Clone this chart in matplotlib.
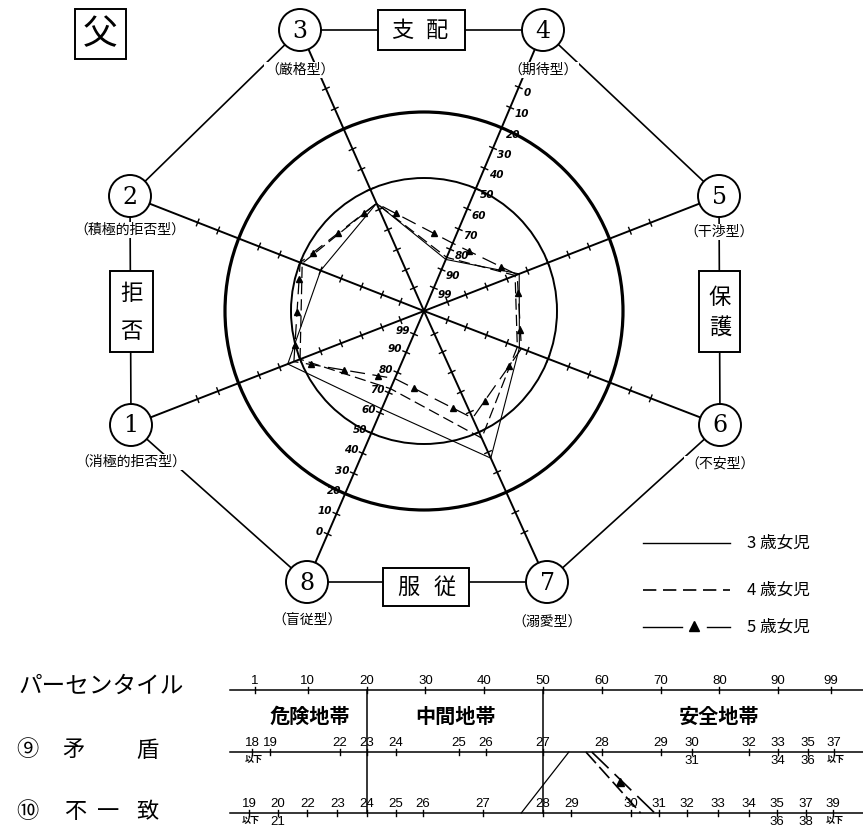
import numpy as np
import matplotlib
matplotlib.use('Agg')
import matplotlib.pyplot as plt
from matplotlib.patches import Circle, Rectangle

plt.rcParams['font.family'] = ['Noto Sans CJK JP', 'DejaVu Sans']

# ---------------- data ----------------
axis_numbers = ['1', '2', '3', '4', '5', '6', '7', '8']
type_labels = ['（消極的拒否型）', '（積極的拒否型）', '（厳格型）', '（期待型）',
               '（干渉型）', '（不安型）', '（溺愛型）', '（盲従型）']
scale_ticks = [0, 10, 20, 30, 40, 50, 60, 70, 80, 90, 99]
ring_values = [20, 50]
girls3 = [44, 60, 57, 85, 64, 64, 37, 62]
girls4 = [50, 51, 57, 84, 66, 65, 47, 72]
girls5 = [47, 50, 57, 77, 65, 63, 57, 77]
series_names = ['3 歳女児', '4 歳女児', '5 歳女児']
title_label = '父'

pct_ticks = [1, 10, 20, 30, 40, 50, 60, 70, 80, 90, 99]
zone_names = ['危険地帯', '中間地帯', '安全地帯']
zone_bounds = [20, 50]
mujun_scores = ['18', '19', '22', '23', '24', '25', '26', '27', '28', '29', '30', '32', '33', '35', '37']
mujun_pct = [0.5, 3.6, 15.5, 20, 25, 35.7, 40.3, 50, 60, 70, 75.3, 85, 90, 95, 99.5]
mujun_sub = {'18': '以下', '30': '31', '33': '34', '35': '36', '37': '以下'}
fuitchi_scores = ['19', '20', '22', '23', '24', '25', '26', '27', '28', '29', '30', '31',
                  '32', '33', '34', '35', '37', '39']
fuitchi_pct = [0, 4.9, 9.9, 15, 20, 25, 29.6, 39.8, 50, 54.8, 65, 69.7, 74.5, 79.8, 85,
               89.8, 94.7, 99.3]
fuitchi_sub = {'19': '以下', '20': '21', '35': '36', '37': '38', '39': '以下'}
mujun_series = [54.4, 57.3, 58.3]
fuitchi_series = [46.3, 66.6, 69.0]

# ---------------- layout ----------------
fig = plt.figure(figsize=(8.63, 8.32), dpi=100)
ax = fig.add_axes([0, 0, 1, 1])
ax.set_xlim(0, 863)
ax.set_ylim(832, 0)
ax.axis('off')

cx, cy = 424, 311
node_xy = [(131, 425), (130, 196), (300, 30), (543, 30),
           (719, 196), (720, 425), (547, 582), (307, 582)]
angles = [np.arctan2(cy - ny, nx - cx) for nx, ny in node_xy]
R0, K = 243.0, 2.2


def rad(v):
    return R0 - K * v


def pos(i, v):
    r = rad(v)
    return cx + r * np.cos(angles[i]), cy - r * np.sin(angles[i])


JP = ['Noto Sans CJK JP', 'DejaVu Sans']

# spokes
for (nx, ny) in node_xy:
    ax.plot([cx, nx], [cy, ny], color='k', lw=1.4, zorder=1, solid_capstyle='butt')

# spoke ticks
for i in range(8):
    a = angles[i]
    u = np.array([np.cos(a), -np.sin(a)])
    pp = np.array([-u[1], u[0]])
    for v in scale_ticks:
        x, y = pos(i, v)
        ax.plot([x - 3.5 * pp[0], x + 3.5 * pp[0]], [y - 3.5 * pp[1], y + 3.5 * pp[1]],
                color='k', lw=1.0, zorder=2)

# rings
ax.add_patch(Circle((cx, cy), rad(ring_values[0]), fill=False, ec='k', lw=2.3, zorder=2))
ax.add_patch(Circle((cx, cy), rad(ring_values[1]), fill=False, ec='k', lw=1.4, zorder=2))

# octagon edges
for a_, b_ in [(2, 3), (3, 4), (4, 5), (5, 6), (6, 7), (7, 0), (0, 1), (1, 2)]:
    ax.plot([node_xy[a_][0], node_xy[b_][0]], [node_xy[a_][1], node_xy[b_][1]],
            color='k', lw=1.2, zorder=1)

# tick labels on axes 4 and 8
for i in (3, 7):
    a = angles[i]
    u = np.array([np.cos(a), -np.sin(a)])
    perp = np.array([-u[1], u[0]])
    for v in scale_ticks:
        x, y = pos(i, v)
        d = 6 + 3.2 * len(str(v))
        ax.text(x + perp[0] * d, y + perp[1] * d + 2, str(v), ha='center', va='center',
                fontsize=7.5, fontstyle='italic', fontweight='bold', family='DejaVu Sans',
                zorder=3)


# series
def closed(vals):
    pts = [pos(i, v) for i, v in enumerate(vals)]
    pts.append(pts[0])
    return [p[0] for p in pts], [p[1] for p in pts]


xs, ys = closed(girls3)
ax.plot(xs, ys, color='k', lw=0.8, zorder=4)
xs, ys = closed(girls4)
ax.plot(xs, ys, color='k', lw=0.9, ls=(0, (9, 4)), zorder=4)
xs, ys = closed(girls5)
ax.plot(xs, ys, color='k', lw=0.9, ls=(0, (12, 6)), zorder=4)
# triangle decorations along the 5-year line
mx, my = [], []
for k in range(len(xs) - 1):
    L = np.hypot(xs[k + 1] - xs[k], ys[k + 1] - ys[k])
    n = max(1, int(L // 32))
    for j in range(n):
        t = (j + 0.5) / n
        mx.append(xs[k] + t * (xs[k + 1] - xs[k]))
        my.append(ys[k] + t * (ys[k + 1] - ys[k]))
ax.plot(mx, my, ls='none', marker='^', ms=4, color='k', zorder=4)

# nodes
label_dy = [37, 34, 40, 40, 36, 39, 40, 38]
for i, (nx, ny) in enumerate(node_xy):
    ax.add_patch(Circle((nx, ny), 21, fc='white', ec='k', lw=1.4, zorder=6))
    ax.text(nx, ny + 1, axis_numbers[i], ha='center', va='center', fontsize=17,
            family='DejaVu Serif', zorder=7)
    ax.text(nx, ny + label_dy[i], type_labels[i], ha='center', va='center', fontsize=10,
            family=JP, zorder=7,
            bbox=dict(boxstyle='square,pad=0.1', fc='white', ec='none'))

# group boxes
boxes = [((378, 10), 87, 40, [('支', 402, 30), ('配', 437, 30)]),
         ((383, 568), 86, 38, [('服', 408, 587), ('従', 445, 587)]),
         ((110, 271), 43, 81, [('拒', 131, 293), ('否', 131, 331)]),
         ((699, 271), 41, 81, [('保', 720, 297), ('護', 720, 327)])]
for (bx, by), bw, bh, chars in boxes:
    ax.add_patch(Rectangle((bx, by), bw, bh, fc='white', ec='k', lw=1.4, zorder=6))
    for ch, tx, ty in chars:
        ax.text(tx, ty, ch, ha='center', va='center', fontsize=16, family=JP, zorder=7)
ax.add_patch(Rectangle((75, 9), 51, 50, fc='white', ec='k', lw=1.4, zorder=6))
ax.text(100.5, 35, title_label, ha='center', va='center', fontsize=25, family=JP, zorder=7)

# legend
ly = [543, 590, 627]
ax.plot([643, 730], [ly[0], ly[0]], color='k', lw=1.0)
ax.plot([643, 730], [ly[1], ly[1]], color='k', lw=1.2, ls=(0, (8, 4)))
ax.plot([643, 682], [ly[2], ly[2]], color='k', lw=1.0)
ax.plot([707, 730], [ly[2], ly[2]], color='k', lw=1.0)
ax.plot([694], [ly[2] - 1], marker='^', ms=7, color='k')
for yy, nm in zip(ly, series_names):
    ax.text(747, yy, nm, ha='left', va='center', fontsize=12, family=JP)


# ---------------- bottom scales ----------------
def xp(p):
    return 249 + 5.88 * p


y_pct, y_mu, y_fu = 690, 752, 813
for yy in (y_pct, y_mu, y_fu):
    ax.plot([230, 863], [yy, yy], color='k', lw=1.1)

NUM = 'Liberation Sans'
for p in pct_ticks:
    ax.plot([xp(p)] * 2, [y_pct - 3, y_pct + 3], color='k', lw=1)
    ax.text(xp(p), y_pct - 3, str(p), ha='center', va='bottom', fontsize=9.5, family=NUM)

for b in zone_bounds:
    ax.plot([xp(b)] * 2, [y_pct, y_fu], color='k', lw=1.1)

zone_x = [310, 455, 719]
for nm, zx in zip(zone_names, zone_x):
    ax.text(zx, 716, nm, ha='center', va='center', fontsize=14.5, family=JP, fontweight='bold')

for scores, pcts, subs, yy in [(mujun_scores, mujun_pct, mujun_sub, y_mu),
                               (fuitchi_scores, fuitchi_pct, fuitchi_sub, y_fu)]:
    for s, p in zip(scores, pcts):
        ax.plot([xp(p)] * 2, [yy - 3, yy + 3], color='k', lw=1)
        ax.text(xp(p), yy - 3, s, ha='center', va='bottom', fontsize=9.5, family=NUM)
        if s in subs:
            sub = subs[s]
            if sub == '以下':
                ax.text(xp(p) + 2, yy + 3, sub, ha='center', va='top', fontsize=6.5,
                        family=JP, fontweight='bold')
            else:
                ax.text(xp(p), yy + 3, sub, ha='center', va='top', fontsize=9.5, family=NUM)

# profile lines between 9 and 10
ax.plot([xp(mujun_series[0]), xp(fuitchi_series[0])], [y_mu, y_fu], color='k', lw=0.9)
ax.plot([xp(mujun_series[1]), xp(fuitchi_series[1])], [y_mu, y_fu], color='k', lw=1.2,
        ls=(0, (9, 3)))
ax.plot([xp(mujun_series[2]), xp(fuitchi_series[2])], [y_mu, y_fu], color='k', lw=1.2,
        ls=(0, (14, 5)))
ax.plot([(xp(mujun_series[2]) + xp(fuitchi_series[2])) / 2 - 3],
        [(y_mu + y_fu) / 2 - 1], marker='^', ms=6, color='k')

# row labels
ax.text(18, 686, 'パーセンタイル', ha='left', va='center', fontsize=17, family=JP)
for ch, tx in [('⑨', 27), ('矛', 73), ('盾', 147)]:
    ax.text(tx, 750, ch, ha='center', va='center', fontsize=16, family=JP)
for ch, tx in [('⑩', 27), ('不', 75), ('一', 108), ('致', 147)]:
    ax.text(tx, 812, ch, ha='center', va='center', fontsize=16, family=JP)

fig.savefig('out.png', dpi=100)
